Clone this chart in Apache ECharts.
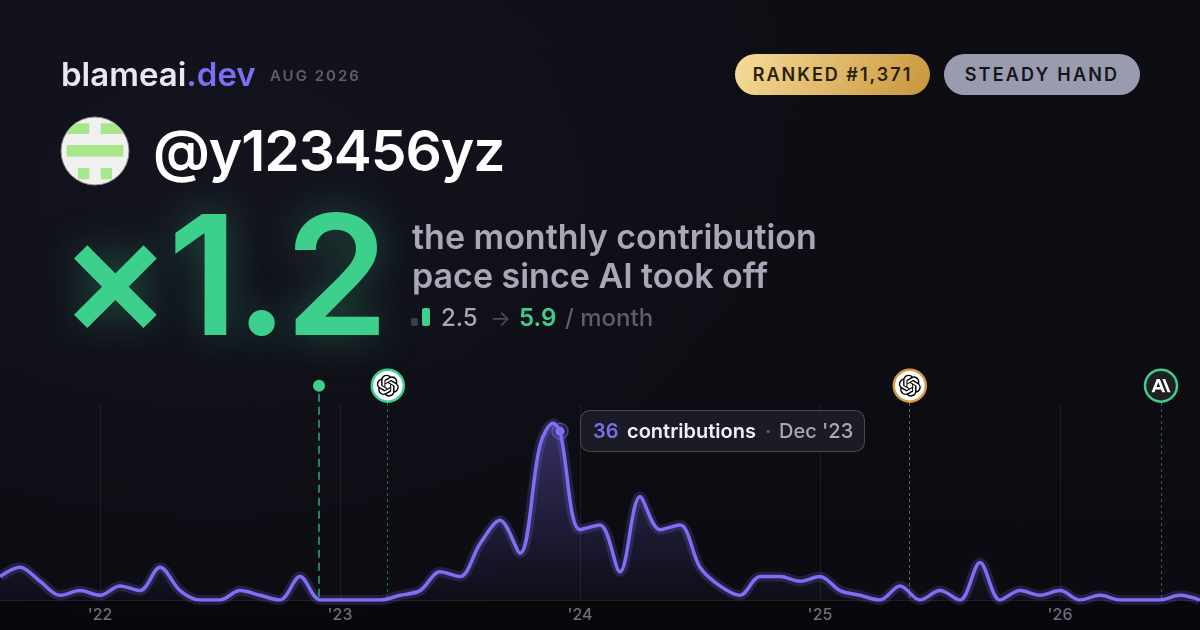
<!DOCTYPE html>
<html><head><meta charset="utf-8">
<script src="https://cdn.jsdelivr.net/npm/echarts@6/dist/echarts.min.js"></script>
<style>
html,body{margin:0;padding:0;width:1200px;height:630px;overflow:hidden;background:#0b0b11}
#bg{position:absolute;left:0;top:0;width:1200px;height:630px;background:
 radial-gradient(900px 600px at 18% 30%,#14141f 0%,rgba(20,20,31,0) 75%),linear-gradient(180deg,#0d0d14 0%,#0b0b11 100%)}
#band{position:absolute;left:0;top:600px;width:1200px;height:30px;background:linear-gradient(180deg,rgba(0,0,0,.25),rgba(0,0,0,.45))}
#chart{position:absolute;left:0;top:0;width:1200px;height:630px}
.t{position:absolute;font-family:Inter,sans-serif;white-space:nowrap;line-height:1}
.badge{position:absolute;top:54px;height:41px;border-radius:21px;font:600 18px/41px Inter,sans-serif;text-align:center}
#tip{position:absolute;left:580px;top:410px;width:283px;height:40px;border:1px solid rgba(255,255,255,.2);border-radius:10px;background:#1b1b25;font:600 20px/40px Inter,sans-serif;white-space:nowrap;box-sizing:content-box}
#tip span{position:absolute;top:0}
</style></head><body>
<div id="bg"></div><div id="band"></div>
<div id="chart"></div>

<div class="t" style="left:61px;top:58px;font-size:33px;font-weight:600;color:#e8e8f0">blameai<span style="color:#7c6ff0">.dev</span></div>
<div class="t" style="left:270px;top:68px;font-size:15px;font-weight:600;letter-spacing:2px;color:#5e5e70">AUG 2026</div>
<div class="badge" style="left:735px;width:195px;letter-spacing:2px;color:#2a2008;background:linear-gradient(120deg,#f6dc98,#c8953c)">RANKED #1,371</div>
<div class="badge" style="left:944px;width:196px;letter-spacing:2.2px;color:#14141b;background:#9a9bae">STEADY HAND</div>

<svg style="position:absolute;left:60px;top:116px" width="70" height="70" viewBox="60 116 70 70">
 <defs><clipPath id="c"><circle cx="95" cy="151" r="33.5"/></clipPath></defs>
 <circle cx="95" cy="151" r="34" fill="#f0f0f0" stroke="#8a8a8a" stroke-width="1"/>
 <g clip-path="url(#c)" fill="#a8e68c">
  <rect x="66.7" y="123.3" width="22.6" height="10.7"/><rect x="100.7" y="123.3" width="22.6" height="10.7"/>
  <rect x="66.7" y="145" width="56.6" height="11.7"/>
  <rect x="78" y="168" width="11.3" height="11.3"/><rect x="100.7" y="168" width="11.3" height="11.3"/>
 </g></svg>
<div class="t" style="left:153px;top:122px;font-size:57px;font-weight:600;letter-spacing:-1.1px;color:#fff">@y123456yz</div>
<div class="t" style="left:59px;top:191px;font-size:167px;font-weight:600;letter-spacing:-3.5px;color:#3dd08c;text-shadow:0 0 40px rgba(61,208,140,.35)">×1.2</div>
<div class="t" style="left:412px;top:220px;font-size:34px;font-weight:600;color:#a8a8b8">the monthly contribution</div>
<div class="t" style="left:412px;top:259px;font-size:34px;font-weight:600;color:#a8a8b8">pace since AI took off</div>
<div style="position:absolute;left:411px;top:318px;width:7px;height:8px;border-radius:2px;background:#3c3c48"></div>
<div style="position:absolute;left:422px;top:308px;width:8px;height:18px;border-radius:2px;background:#3dd08c"></div>
<div class="t" style="left:441px;top:306px;font-size:24px;font-weight:500;color:#a8a8b8">2.5</div>
<div class="t" style="left:490px;top:307px;font-size:22px;font-weight:400;color:#4a4a58">→</div>
<div class="t" style="left:519px;top:306px;font-size:24px;font-weight:600;color:#3dd08c">5.9</div>
<div class="t" style="left:565px;top:306px;font-size:24px;font-weight:500;color:#5e5e70">/ month</div>

<div id="tip"><span style="left:12px;color:#7c6ff0">36</span><span style="left:46px;color:#f0f0f5">contributions</span><span style="left:184px;color:#5e5e70">·</span><span style="left:198px;color:#a8a8b8;font-weight:500">Dec '23</span></div>

<script>
const months = ["2021-08","2021-09","2021-10","2021-11","2021-12",
 "2022-01","2022-02","2022-03","2022-04","2022-05","2022-06","2022-07","2022-08","2022-09","2022-10","2022-11","2022-12",
 "2023-01","2023-02","2023-03","2023-04","2023-05","2023-06","2023-07","2023-08","2023-09","2023-10","2023-11","2023-12",
 "2024-01","2024-02","2024-03","2024-04","2024-05","2024-06","2024-07","2024-08","2024-09","2024-10","2024-11","2024-12",
 "2025-01","2025-02","2025-03","2025-04","2025-05","2025-06","2025-07","2025-08","2025-09","2025-10","2025-11","2025-12",
 "2026-01","2026-02","2026-03","2026-04","2026-05","2026-06","2026-07","2026-08"];
const contributions = [5,7,4,1,2,
 1,3,2,7,2,0,0,2,1,0,5,0,
 0,0,0,1,2,6,5,12,17,10,33,36,
 15,16,6,22,15,16,7,3,1,5,5,4,
 5,2,1,0,3,0,2,0,8,0,2,1,2,
 0,1,0,0,0,1,0];
const crestPosition = [27.65];
const crestValue = [37.7];
const yearTicks = [5,17,29,41,53];
const yearLabels = ["'22","'23","'24","'25","'26"];
const launchMark = [15.95];
const openaiGreen = [19.39];
const openaiGold = [45.49];
const anthropicMark = [58.05];
const peakIndex = [28];

const OPENAI = "path://M22.2819 9.8211a5.9847 5.9847 0 0 0-.5157-4.9108 6.0462 6.0462 0 0 0-6.5098-2.9A6.0651 6.0651 0 0 0 4.9807 4.1818a5.9847 5.9847 0 0 0-3.9977 2.9 6.0462 6.0462 0 0 0 .7427 7.0966 5.98 5.98 0 0 0 .511 4.9107 6.051 6.051 0 0 0 6.5146 2.9001A5.9847 5.9847 0 0 0 13.2599 24a6.0557 6.0557 0 0 0 5.7718-4.2058 5.9894 5.9894 0 0 0 3.9977-2.9001 6.0557 6.0557 0 0 0-.7475-7.0729zm-9.022 12.6081a4.4755 4.4755 0 0 1-2.8764-1.0408l.1419-.0804 4.7783-2.7582a.7948.7948 0 0 0 .3927-.6813v-6.7369l2.02 1.1686a.071.071 0 0 1 .038.052v5.5826a4.504 4.504 0 0 1-4.4945 4.4944zm-9.6607-4.1254a4.4708 4.4708 0 0 1-.5346-3.0137l.142.0852 4.783 2.7582a.7712.7712 0 0 0 .7806 0l5.8428-3.3685v2.3324a.0804.0804 0 0 1-.0332.0615L9.74 19.9502a4.4992 4.4992 0 0 1-6.1408-1.6464zM2.3408 7.8956a4.485 4.485 0 0 1 2.3655-1.9728V11.6a.7664.7664 0 0 0 .3879.6765l5.8144 3.3543-2.0201 1.1685a.0757.0757 0 0 1-.071 0l-4.8303-2.7865A4.504 4.504 0 0 1 2.3408 7.872zm16.5963 3.8558L13.1038 8.364 15.1192 7.2a.0757.0757 0 0 1 .071 0l4.8303 2.7913a4.4944 4.4944 0 0 1-.6765 8.1042v-5.6772a.79.79 0 0 0-.407-.667zm2.0107-3.0231l-.142-.0852-4.7735-2.7818a.7759.7759 0 0 0-.7854 0L9.409 9.2297V6.8974a.0662.0662 0 0 1 .0284-.0615l4.8303-2.7866a4.4992 4.4992 0 0 1 6.6802 4.66zM8.3065 12.863l-2.02-1.1638a.0804.0804 0 0 1-.038-.0567V6.0742a4.4992 4.4992 0 0 1 7.3757-3.4537l-.142.0805L8.704 5.459a.7948.7948 0 0 0-.3927.6813zm1.0976-2.3654l2.602-1.4998 2.6069 1.4998v2.9994l-2.5974 1.4997-2.6067-1.4997Z";
const ANTHROPIC = "path://M17.3041 3.541h-3.6718l6.696 16.918H24Zm-10.6082 0L0 20.459h3.7442l1.3693-3.5527h7.0052l1.3693 3.5528h3.7442L10.5363 3.5409Zm-.3712 10.2232 2.2914-5.9456 2.2914 5.9456Z";

const GREEN="#3dd08c", GOLD="#d49a48", PURPLE="#7f6ff2";
const lineData = contributions.map((v,i)=>[i,v]);
lineData.splice(peakIndex[0],0,[crestPosition[0],crestValue[0]]);
const Y_TOP = 42.0, Y_ICON = 45.7;

const yearLines = yearTicks.map(x=>[{xAxis:x,yAxis:Y_TOP},{xAxis:x,yAxis:0}]);
const vline=(x,top,color,type,width,op)=>[{xAxis:x,yAxis:top,lineStyle:{color,type,width,opacity:op}},{xAxis:x,yAxis:0}];
const icon=(x,size,symbol,color,z,border)=>({type:'scatter',silent:true,z,animation:false,symbol,symbolSize:size,symbolKeepAspect:true,
  data:[[x,Y_ICON]],itemStyle:{color,opacity:1,borderColor:border||color,borderWidth:border?2.5:0}});

const chart = echarts.init(document.getElementById('chart'),null,{renderer:'canvas'});
chart.setOption({
 animation:false,
 backgroundColor:'transparent',
 grid:{left:0,right:0,top:370,bottom:30,containLabel:false},
 xAxis:{type:'value',min:0,max:60,
  splitLine:{show:false},axisTick:{show:false},
  axisLine:{show:true,onZero:false,lineStyle:{color:'rgba(255,255,255,.09)',width:1}},
  axisLabel:{show:true,customValues:yearTicks,formatter:v=>yearLabels[yearTicks.indexOf(v)],
    color:'#6e6e7e',fontFamily:'Inter',fontSize:16,fontWeight:500,margin:7,hideOverlap:false,showMinLabel:true,showMaxLabel:true}},
 yAxis:{type:'value',min:0,max:49.04,show:false,splitLine:{show:false}},
 series:[
  {type:'line',name:'contributions halo',data:lineData,smooth:0.33,symbol:'none',z:2,clip:true,silent:true,
   lineStyle:{color:PURPLE,width:10,opacity:.2},
   areaStyle:{color:{type:'linear',global:true,x:0,y:423,x2:0,y2:600,
     colorStops:[{offset:0,color:'rgba(127,111,242,.5)'},{offset:1,color:'rgba(127,111,242,.04)'}]}},
   markLine:{silent:true,symbol:'none',z:1,animation:false,label:{show:false},
     lineStyle:{color:'rgba(255,255,255,.07)',type:'solid',width:1},data:yearLines}},
  {type:'line',name:'contributions',data:lineData,smooth:0.33,symbol:'none',z:3,silent:true,
   lineStyle:{color:PURPLE,width:3.5},
   markLine:{silent:true,symbol:'none',z:1,animation:false,label:{show:false},data:[
     vline(launchMark[0],44,GREEN,[8,5],2,.6),
     vline(openaiGreen[0]-0.03,42,GREEN,[3,3],1,.45),
     vline(openaiGold[0]-0.03,42,GOLD,[3,3],1,.55),
     vline(anthropicMark[0],42,GREEN,[3,3],1,.45)]}},
  icon(launchMark[0],12,'circle',GREEN,6),
  icon(openaiGreen[0],32,'circle','#ffffff',6,GREEN),
  icon(openaiGreen[0],22,OPENAI,'#000000',7),
  icon(openaiGold[0],32,'circle','#ffffff',6,GOLD),
  icon(openaiGold[0],22,OPENAI,'#000000',7),
  icon(anthropicMark[0],32,'circle','#1f1f24',6,GREEN),
  icon(anthropicMark[0],19,ANTHROPIC,'#ffffff',7),
  {type:'scatter',silent:true,z:8,symbol:'circle',symbolSize:16,data:[[peakIndex[0],contributions[peakIndex[0]]]],
   itemStyle:{opacity:1,color:'rgba(127,111,242,.15)',borderColor:'rgba(127,111,242,.5)',borderWidth:1.5}},
  {type:'scatter',silent:true,z:9,symbol:'circle',symbolSize:9,data:[[peakIndex[0],contributions[peakIndex[0]]]],
   itemStyle:{opacity:1,color:PURPLE}}
 ]
});
</script>
</body></html>
